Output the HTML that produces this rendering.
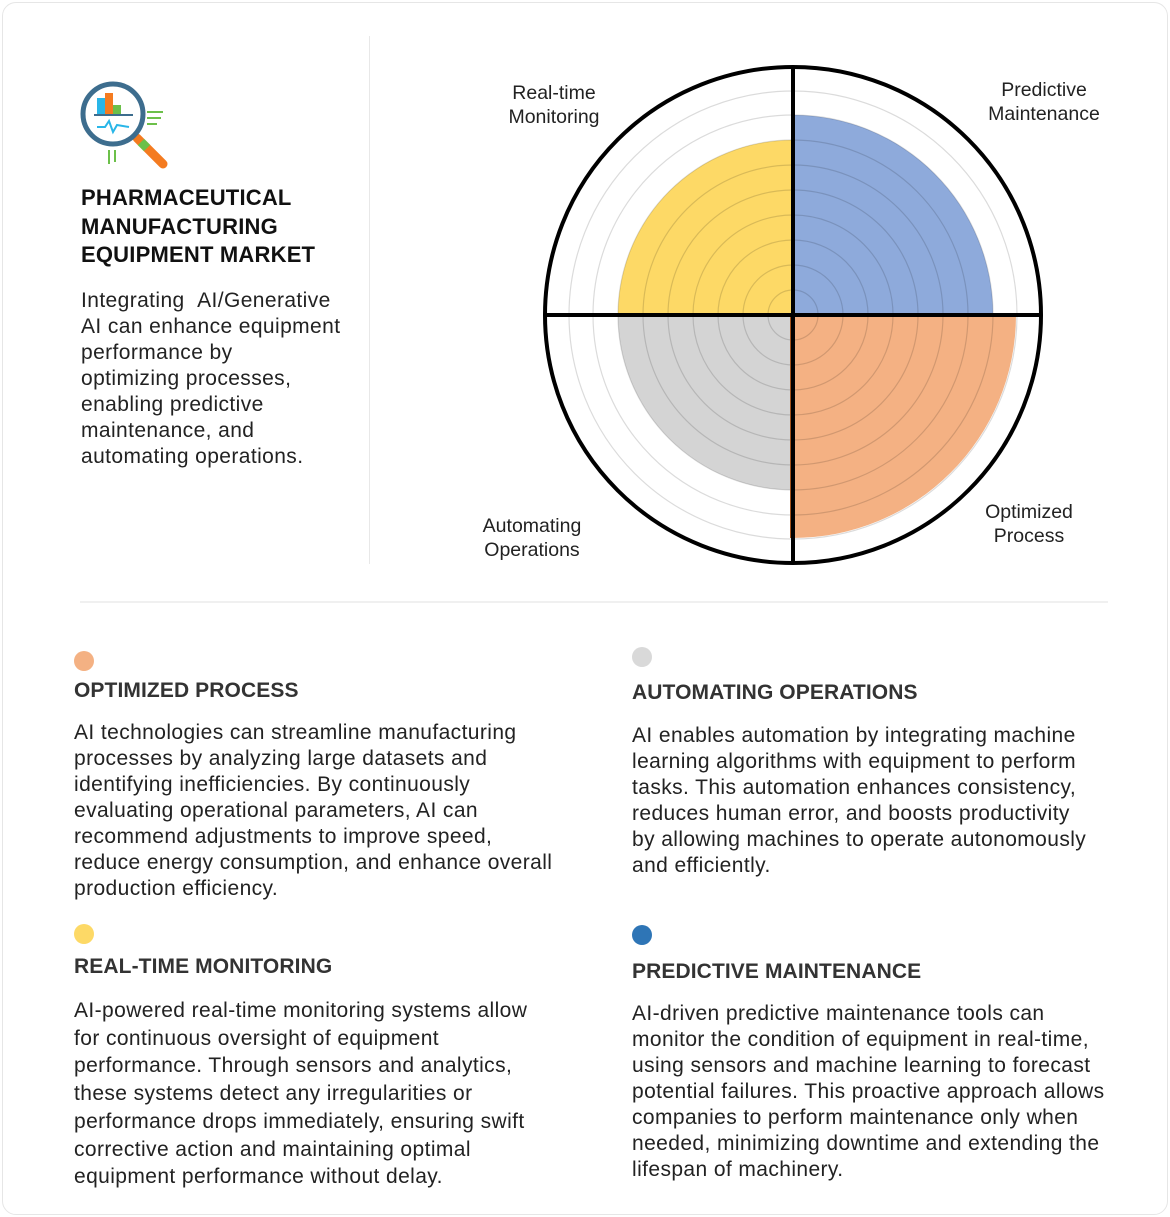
<!DOCTYPE html>
<html><head><meta charset="utf-8"><style>
body{margin:0;width:1170px;height:1217px;background:#fff;font-family:"Liberation Sans",Arial,sans-serif;color:#222;position:relative;overflow:hidden}
.card{position:absolute;left:2px;top:2px;width:1164px;height:1211px;border:1px solid #e6e6e6;border-radius:14px}
.a{position:absolute;white-space:nowrap}
.t{font-weight:bold;font-size:22px;line-height:28.5px;color:#111;letter-spacing:0.2px}
.p{font-size:21px;line-height:26px;color:#222;letter-spacing:0.4px}
.h{font-weight:bold;font-size:21px;color:#333;letter-spacing:0.1px}
.l{font-size:19.5px;line-height:24px;text-align:center;color:#222}
.dot{position:absolute;width:20px;height:20px;border-radius:50%}
</style></head><body>
<div class="card"></div>
<div style="position:absolute;left:369px;top:36px;width:1px;height:528px;background:#e8e8e8"></div>
<div style="position:absolute;left:80px;top:601px;width:1028px;height:2px;background:#f0f0f0"></div>
<svg class="a" style="left:75px;top:80px" width="100" height="95" viewBox="0 0 100 95">
<line x1="62" y1="58" x2="88" y2="84" stroke="#f47b20" stroke-width="9" stroke-linecap="round"/>
<line x1="66" y1="62" x2="72" y2="68" stroke="#6cc04a" stroke-width="9"/>
<circle cx="38" cy="34" r="30" fill="#fff" stroke="#3d6d8e" stroke-width="5"/>
<rect x="22" y="18" width="8" height="16" fill="#29b6e8"/><rect x="30" y="13" width="8" height="21" fill="#f47b20"/><rect x="38" y="25" width="8" height="9" fill="#6cc04a"/>
<line x1="19" y1="35" x2="58" y2="35" stroke="#3d6d8e" stroke-width="2"/>
<polyline points="22,47 30,47 34,41 38,52 42,45 54,47" fill="none" stroke="#29b6e8" stroke-width="2"/>
<g stroke="#6cc04a" stroke-width="2"><line x1="72" y1="32" x2="88" y2="32"/><line x1="72" y1="38" x2="86" y2="38"/><line x1="72" y1="44" x2="82" y2="44"/><line x1="34" y1="70" x2="34" y2="84"/><line x1="40" y1="70" x2="40" y2="82"/></g>
</svg>
<div class="a t" style="left:81px;top:184px">PHARMACEUTICAL<br>MANUFACTURING<br>EQUIPMENT MARKET</div>
<div class="a p" style="left:81px;top:288px">Integrating &nbsp;AI/Generative<br>AI can enhance equipment<br>performance by<br>optimizing processes,<br>enabling predictive<br>maintenance, and<br>automating operations.</div>
<svg class="a" style="left:0;top:0" width="1170" height="600">
<path d="M793 315 L793 115 A200 200 0 0 1 993 315 Z" fill="#8eaadb"/>
<path d="M793 315 L793 140 A175 175 0 0 0 618 315 Z" fill="#fdd966"/>
<path d="M793 315 L618 315 A175 175 0 0 0 793 490 Z" fill="#d4d4d4"/>
<path d="M793 315 L1016 315 A223 223 0 0 1 793 538 Z" fill="#f4b183"/>
<g fill="none" stroke="#000" stroke-opacity="0.14" stroke-width="1.2">
<circle cx="793" cy="315" r="25"/><circle cx="793" cy="315" r="50"/><circle cx="793" cy="315" r="75"/><circle cx="793" cy="315" r="100"/><circle cx="793" cy="315" r="125"/><circle cx="793" cy="315" r="150"/><circle cx="793" cy="315" r="175"/><circle cx="793" cy="315" r="200"/><circle cx="793" cy="315" r="224"/></g>
<line x1="791" y1="315" x2="791" y2="538" stroke="#a0521d" stroke-width="2"/>
<line x1="793" y1="315" x2="993" y2="315" stroke="#2f5597" stroke-width="2"/>
<circle cx="793" cy="315" r="248" fill="none" stroke="#000" stroke-width="4"/>
<line x1="545" y1="315" x2="1041" y2="315" stroke="#000" stroke-width="4"/>
<line x1="793" y1="67" x2="793" y2="563" stroke="#000" stroke-width="4"/>
</svg>
<div class="a l" style="left:489px;top:81px;width:130px">Real-time<br>Monitoring</div>
<div class="a l" style="left:974px;top:78px;width:140px">Predictive<br>Maintenance</div>
<div class="a l" style="left:467px;top:514px;width:130px">Automating<br>Operations</div>
<div class="a l" style="left:964px;top:500px;width:130px">Optimized<br>Process</div>
<div class="dot" style="left:74px;top:651px;background:#f4b183"></div>
<div class="a h" style="left:74px;top:679px">OPTIMIZED PROCESS</div>
<div class="a p" style="left:74px;top:720px">AI technologies can streamline manufacturing<br>processes by analyzing large datasets and<br>identifying inefficiencies. By continuously<br>evaluating operational parameters, AI can<br>recommend adjustments to improve speed,<br>reduce energy consumption, and enhance overall<br>production efficiency.</div>
<div class="dot" style="left:632px;top:647px;background:#d9d9d9"></div>
<div class="a h" style="left:632px;top:681px">AUTOMATING OPERATIONS</div>
<div class="a p" style="left:632px;top:723px">AI enables automation by integrating machine<br>learning algorithms with equipment to perform<br>tasks. This automation enhances consistency,<br>reduces human error, and boosts productivity<br>by allowing machines to operate autonomously<br>and efficiently.</div>
<div class="dot" style="left:74px;top:924px;background:#fdd966"></div>
<div class="a h" style="left:74px;top:955px">REAL-TIME MONITORING</div>
<div class="a p" style="left:74px;top:997px;line-height:27.7px">AI-powered real-time monitoring systems allow<br>for continuous oversight of equipment<br>performance. Through sensors and analytics,<br>these systems detect any irregularities or<br>performance drops immediately, ensuring swift<br>corrective action and maintaining optimal<br>equipment performance without delay.</div>
<div class="dot" style="left:632px;top:925px;background:#2e75b6"></div>
<div class="a h" style="left:632px;top:960px">PREDICTIVE MAINTENANCE</div>
<div class="a p" style="left:632px;top:1001px">AI-driven predictive maintenance tools can<br>monitor the condition of equipment in real-time,<br>using sensors and machine learning to forecast<br>potential failures. This proactive approach allows<br>companies to perform maintenance only when<br>needed, minimizing downtime and extending the<br>lifespan of machinery.</div>
</body></html>
